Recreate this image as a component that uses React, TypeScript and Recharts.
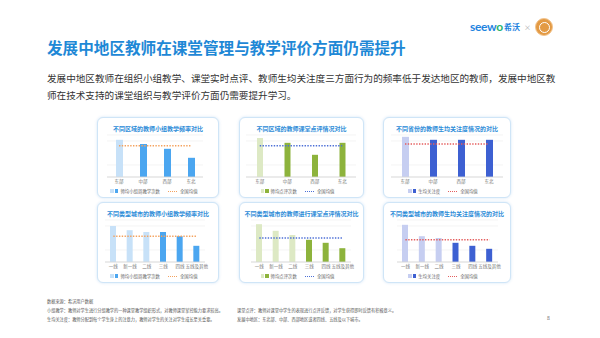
import { BarChart, Bar, XAxis, YAxis, CartesianGrid, Cell, ReferenceLine } from "recharts";

const regions = ["东部", "中部", "西部", "东北"];
const cityTiers = ["一线", "新一线", "二线", "三线", "四线", "五线及其他"];
const developedRegions = ["东部"];
const developedCities = ["一线", "新一线", "二线"];

// no axis labels so the unit is arbitrary
const regionGroupTeaching = [6.2, 5.5, 4.7, 3.2];
const regionGroupTeachingAvg = 5.2;
const regionComments = [6.5, 5.7, 3.7, 5.7];
const regionCommentsAvg = 5.2;
const regionAttention = [6.7, 6.2, 6.2, 6.2];
const regionAttentionAvg = 5.5;
const cityGroupTeaching = [6.0, 5.3, 5.0, 5.0, 4.3, 2.7];
const cityGroupTeachingAvg = 4.3;
const cityComments = [6.3, 5.2, 4.5, 3.7, 3.2, 2.3];
const cityCommentsAvg = 4.0;
const cityAttention = [6.2, 4.3, 4.0, 3.2, 2.7, 2.2];
const cityAttentionAvg = 3.7;

const gridTicks = [0, 1, 2, 3, 4, 5, 6];

const palettes = {
  blue: { dark: "#4BA6F0", light: "#C7E1F8", avg: "#F4A25E" },
  green: { dark: "#8DB33C", light: "#DDE9C4", avg: "#4C6FD6" },
  navy: { dark: "#3D60D2", light: "#C6CEF1", avg: "#E45E5E" },
};

const font = '"Noto Sans CJK SC", "Noto Sans", sans-serif';

type MiniProps = {
  title: string;
  cats: string[];
  values: number[];
  avg: number;
  developed: string[];
  palette: { dark: string; light: string; avg: string };
  seriesName: string;
  x: number;
  y: number;
  w: number;
  ml: number;
  mr: number;
  barSize: number;
};

function MiniBars({ title, cats, values, avg, developed, palette, seriesName, x, y, w, ml, mr, barSize }: MiniProps) {
  const rows = cats.map((name, i) => ({ name, value: values[i] }));
  const h = 81;
  return (
    <div style={{ position: "absolute", left: x, top: y, width: w, height: h }}>
      <div
        style={{
          position: "absolute",
          inset: 0,
          border: "1.2px solid #CFE5F7",
          borderRadius: 6,
          background: "#fff",
          boxShadow: "0 0 3px rgba(110,170,230,0.3)",
        }}
      />
      <div
        style={{
          position: "absolute",
          top: 8,
          left: 0,
          width: "100%",
          textAlign: "center",
          fontSize: 6,
          lineHeight: "8px",
          fontWeight: 700,
          color: "#2D8CD8",
          whiteSpace: "nowrap",
        }}
      >
        {title}
      </div>
      <div style={{ position: "absolute", left: 0, top: 0 }}>
        <BarChart width={w} height={h} data={rows} margin={{ top: 18, right: mr, bottom: 0, left: ml }}>
          <CartesianGrid vertical={false} stroke="#EDEDED" strokeWidth={0.6} />
          <XAxis
            dataKey="name"
            height={21}
            tickLine={false}
            tickSize={0}
            tickMargin={3}
            axisLine={{ stroke: "#D6D6D6", strokeWidth: 0.8 }}
            tick={{ fontSize: 4.5, fill: "#777", fontFamily: font }}
            interval={0}
          />
          <YAxis hide domain={[0, 7]} ticks={gridTicks} />
          <Bar dataKey="value" barSize={barSize} isAnimationActive={false}>
            {rows.map((r) => (
              <Cell key={r.name} fill={developed.includes(r.name) ? palette.light : palette.dark} />
            ))}
          </Bar>
          <ReferenceLine
            segment={[
              { x: cats[0], y: avg },
              { x: cats[cats.length - 1], y: avg },
            ]}
            stroke={palette.avg}
            strokeWidth={1.4}
            strokeDasharray="1.4 1.4"
          />
        </BarChart>
      </div>
      <div
        style={{
          position: "absolute",
          top: 71,
          left: -4,
          width: "100%",
          height: 6,
          display: "flex",
          alignItems: "center",
          justifyContent: "center",
          fontSize: 4.4,
          color: "#666",
          whiteSpace: "nowrap",
        }}
      >
        <span style={{ width: 3.5, height: 3.5, background: palette.light, marginRight: 1 }} />
        <span style={{ width: 3.5, height: 3.5, background: palette.dark, marginRight: 2 }} />
        <span>{seriesName}</span>
        <span style={{ width: 9, borderTop: `1.3px dotted ${palette.avg}`, margin: "0 3px 0 8px" }} />
        <span>全国均值</span>
      </div>
    </div>
  );
}

export default function App() {
  return (
    <div
      style={{
        position: "absolute",
        left: 0,
        top: 0,
        width: 600,
        height: 338,
        background: "#fff",
        fontFamily: font,
        overflow: "hidden",
      }}
    >
      {/* logo */}
      <div style={{ position: "absolute", left: 470, top: 19, display: "flex", alignItems: "center", whiteSpace: "nowrap" }}>
        <span style={{ fontSize: 12, fontWeight: 700, color: "#1F84E0", fontFamily: "Lato, sans-serif", letterSpacing: -0.3 }}>
          seew<span style={{ color: "#2AB36B" }}>o</span>
        </span>
        <span style={{ fontSize: 8, fontWeight: 700, color: "#1F84E0", marginLeft: 1 }}>希沃</span>
        <span style={{ fontSize: 7, color: "#AAA", marginLeft: 4 }}>×</span>
      </div>
      <div
        style={{
          position: "absolute",
          left: 535,
          top: 18,
          width: 18,
          height: 18,
          borderRadius: "50%",
          background: "#E39A44",
          boxSizing: "border-box",
          border: "1.5px solid #F3C58F",
        }}
      >
        <div style={{ position: "absolute", left: 3, top: 3, width: 9, height: 9, borderRadius: "50%", border: "1px solid #fff" }} />
      </div>

      <div
        style={{
          position: "absolute",
          left: 47,
          top: 37,
          fontSize: 15.6,
          lineHeight: "20px",
          fontWeight: 700,
          color: "#1E88D6",
          whiteSpace: "nowrap",
        }}
      >
        发展中地区教师在课堂管理与教学评价方面仍需提升
      </div>

      <div style={{ position: "absolute", left: 47, top: 70, fontSize: 9.6, lineHeight: "17px", color: "#333", whiteSpace: "nowrap" }}>
        <div>发展中地区教师在组织小组教学、课堂实时点评、教师生均关注度三方面行为的频率低于发达地区的教师，发展中地区教</div>
        <div>师在技术支持的课堂组织与教学评价方面仍需要提升学习。</div>
      </div>

      <MiniBars
        title="不同区域的教师小组教学频率对比"
        cats={regions}
        values={regionGroupTeaching}
        avg={regionGroupTeachingAvg}
        developed={developedRegions}
        palette={palettes.blue}
        seriesName="师均小组周教学次数"
        x={97}
        y={117}
        w={122}
        ml={10}
        mr={16}
        barSize={7}
      />
      <MiniBars
        title="不同区域的教师课堂点评情况对比"
        cats={regions}
        values={regionComments}
        avg={regionCommentsAvg}
        developed={developedRegions}
        palette={palettes.green}
        seriesName="师均点评次数"
        x={239}
        y={117}
        w={125}
        ml={7}
        mr={8}
        barSize={6}
      />
      <MiniBars
        title="不同省份的教师生均关注度情况的对比"
        cats={regions}
        values={regionAttention}
        avg={regionAttentionAvg}
        developed={developedRegions}
        palette={palettes.navy}
        seriesName="生均关注度"
        x={383}
        y={117}
        w={128}
        ml={8}
        mr={8}
        barSize={7}
      />
      <MiniBars
        title="不同类型城市的教师小组教学频率对比"
        cats={cityTiers}
        values={cityGroupTeaching}
        avg={cityGroupTeachingAvg}
        developed={developedCities}
        palette={palettes.blue}
        seriesName="师均小组周教学次数"
        x={97}
        y={202}
        w={122}
        ml={8}
        mr={14}
        barSize={6}
      />
      <MiniBars
        title="不同类型城市的教师进行课堂点评情况对比"
        cats={cityTiers}
        values={cityComments}
        avg={cityCommentsAvg}
        developed={developedCities}
        palette={palettes.green}
        seriesName="师均点评次数"
        x={239}
        y={202}
        w={125}
        ml={12}
        mr={13}
        barSize={6}
      />
      <MiniBars
        title="不同类型城市的教师生均关注度情况的对比"
        cats={cityTiers}
        values={cityAttention}
        avg={cityAttentionAvg}
        developed={developedCities}
        palette={palettes.navy}
        seriesName="生均关注度"
        x={383}
        y={202}
        w={128}
        ml={14}
        mr={13}
        barSize={6}
      />

      <div style={{ position: "absolute", left: 47, top: 297, fontSize: 4.2, lineHeight: "9px", color: "#555", whiteSpace: "nowrap" }}>
        <div>数据来源：希沃用户数据</div>
        <div>小组教学：教师对学生进行分组教学的一种课堂教学组织形式，对教师课堂掌控能力要求较高。</div>
        <div>生均关注度：教师分配到每个学生身上的注意力，教师对学生的关注对学生成长至关重要。</div>
      </div>
      <div style={{ position: "absolute", left: 237, top: 306, fontSize: 4.2, lineHeight: "9px", color: "#555", whiteSpace: "nowrap" }}>
        <div>课堂点评：教师对课堂中学生的表现进行点评反馈，对学生获得即时反馈有积极意义。</div>
        <div>发展中地区：东北部、中部、西部地区或者四线、五线及以下城市。</div>
      </div>
      <div style={{ position: "absolute", left: 547, top: 314, fontSize: 5, color: "#555" }}>8</div>
    </div>
  );
}
